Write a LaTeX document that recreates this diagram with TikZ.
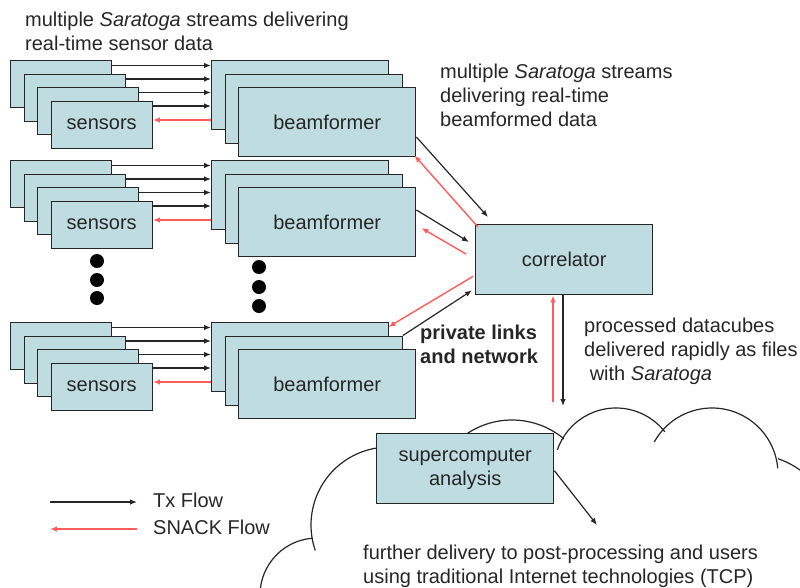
\documentclass[tikz,border=0pt]{standalone}
\usepackage{fontspec}
\setmainfont{Liberation Sans}
\usetikzlibrary{arrows.meta}

\definecolor{boxfill}{HTML}{BFDDE1}
\definecolor{snackred}{HTML}{FF5B5B}
\definecolor{ink}{HTML}{262626}

\newcommand\labelfont{\fontsize{20}{24}\selectfont}

\tikzset{
  unit/.style={draw=ink, line width=1.4pt, fill=boxfill, inner sep=0pt,
    anchor=north west, font=\labelfont, text=ink},
  sensorbox/.style={unit, minimum width=101pt, minimum height=47pt},
  beambox/.style={unit, minimum width=177pt, minimum height=69pt},
  bigbox/.style={unit, minimum width=177pt, minimum height=70pt},
  tx/.style={draw=ink, line width=1.2pt, -{Latex[length=7pt,width=5.5pt]}},
  snack/.style={draw=snackred, line width=1.4pt, -{Latex[length=7pt,width=5.5pt]}},
  dot/.style={circle, fill=black, inner sep=0pt, minimum size=14pt},
  caption/.style={anchor=base west, align=left, inner sep=0pt, text=ink,
    font=\labelfont},
  cloudline/.style={draw=ink, line width=1.2pt},
}

\begin{document}
\begin{tikzpicture}[x=1pt, y=-1pt]
\useasboundingbox (0,0) rectangle (800,587);

% network cloud, drawn as overlapping bumps
\begin{scope}
  \clip (0,0) rectangle (800,587);
  \draw[cloudline] (389,525) ++(95:78pt)  arc[start angle=95,  end angle=199, radius=78pt];
  \draw[cloudline] (317,595) ++(95:57pt)  arc[start angle=95,  end angle=185, radius=57pt];
  \draw[cloudline] (512,501) ++(125:81pt) arc[start angle=125, end angle=50,  radius=81pt];
  \draw[cloudline] (616,470) ++(161:62pt) arc[start angle=161, end angle=38,  radius=62pt];
  \draw[cloudline] (712,474) ++(151:66pt) arc[start angle=151, end angle=5,   radius=66pt];
  \draw[cloudline] (750,540) ++(71:86pt)  arc[start angle=71,  end angle=20,  radius=86pt];
\end{scope}

% three sensor / beamformer chains
\foreach \g/\dy in {1/0, 2/100, 3/262} {
  \node[sensorbox] (s\g a) at (10,    60+\dy) {};
  \node[sensorbox] (s\g b) at (23.5,  73.5+\dy) {};
  \node[sensorbox] (s\g c) at (37,    87+\dy) {};
  \node[sensorbox] (s\g d) at (50.5, 100.5+\dy) {sensors};
  \node[beambox]   (b\g a) at (211,   60+\dy) {};
  \node[beambox]   (b\g b) at (224.5, 73.5+\dy) {};
  \node[beambox]   (b\g c) at (238,   87+\dy) {beamformer};
  \foreach \k in {a,b,c,d} {
    \path ([yshift=-5.5pt]s\g\k.north east) coordinate (t\g\k);
    \draw[tx] (t\g\k) -- (t\g\k -| b\g a.west);
  }
  \path ([yshift=-60pt]b\g a.north west) coordinate (r\g);
  \draw[snack] (r\g) -- (r\g -| s\g d.east);
}

% ellipsis dots between the second and third chains
\node[dot] (sdot1) at (97,261) {};
\node[dot] (sdot2) at (97,280) {};
\node[dot] (sdot3) at (97,298) {};
\node[dot] (bdot1) at (259,267) {};
\node[dot] (bdot2) at (259,287) {};
\node[dot] (bdot3) at (259,306) {};

% correlator and supercomputer
\node[bigbox] (corr) at (475,224) {correlator};
\node[bigbox, align=center] (super) at (376,433) {supercomputer\\analysis};

% beamformer <-> correlator
\draw[tx] ([yshift=-50pt]b1c.north east) -- ([xshift=13pt,yshift=7pt]corr.north west);
\draw[snack] ([xshift=3pt,yshift=-3pt]corr.north west) -- ([xshift=-2pt,yshift=2pt]b1c.south east);
\draw[tx] ([yshift=-23pt]b2c.north east) -- ([xshift=-6pt,yshift=-18pt]corr.north west);
\draw[snack] ([xshift=-9pt,yshift=-30pt]corr.north west) -- ([xshift=5pt,yshift=-41pt]b2c.north east);
\draw[tx] (b3b.north east) -- ([xshift=-3pt,yshift=5pt]corr.south west);
\draw[snack] ([xshift=-2pt,yshift=19pt]corr.south west) -- ([xshift=-1pt,yshift=-5pt]b3a.north east);

% correlator <-> supercomputer site
\coordinate (snackfoot) at (553,402);
\coordinate (txfoot) at (563,406);
\draw[snack] (snackfoot) -- (snackfoot |- corr.south);
\draw[tx] (txfoot |- corr.south) -- (txfoot);

% onward delivery
\coordinate (onward) at (597,525);
\draw[tx] ([yshift=-2pt]super.east) -- (onward);

% captions (base anchor sits on the last line)
\node[caption] (capsensor) at (25,50)
  {multiple \textit{Saratoga} streams delivering\\real-time sensor data};
\node[caption] (capbeam) at (440,126)
  {multiple \textit{Saratoga} streams\\delivering real-time\\beamformed data};
\node[caption, font=\labelfont\bfseries] (caplinks) at (420,363)
  {private links\\and network};
\node[caption] (capcubes) at (584,380)
  {processed datacubes\\delivered rapidly as files\\\hspace*{0.28em}with \textit{Saratoga}};
\node[caption] (capfurther) at (363,583)
  {further delivery to post-processing and users\\using traditional Internet technologies (TCP)};

% legend
\coordinate (txa) at (50,502);
\coordinate (txb) at (137,502);
\coordinate (sna) at (137,529);
\coordinate (snb) at (50,529);
\draw[tx] (txa) -- (txb);
\draw[snack] (sna) -- (snb);
\node[caption] (txlabel) at (153,507) {Tx Flow};
\node[caption] (snacklabel) at (153,534) {SNACK Flow};
\end{tikzpicture}
\end{document}
